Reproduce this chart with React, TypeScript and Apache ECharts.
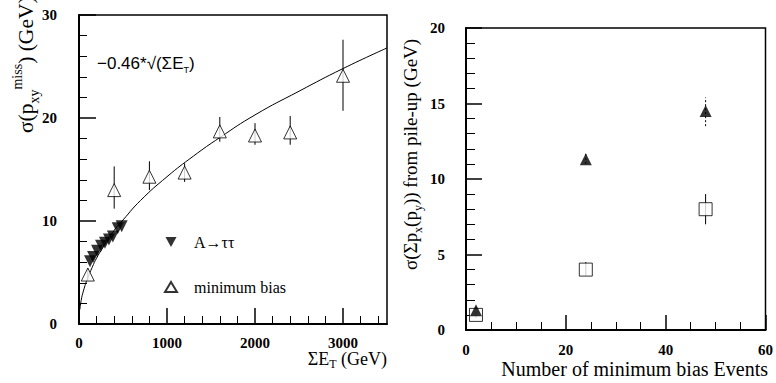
import React, { useEffect, useRef } from 'react';
import * as echarts from 'echarts';

// ---- Left panel: sigma(pxy miss) vs Sum ET ----
const sumEtMajorTicks = [0, 1000, 2000, 3000];
const sumEtMinorTicks = [200, 400, 600, 800, 1200, 1400, 1600, 1800, 2200, 2400, 2600, 2800, 3200, 3400];

const fitX = [10, 25, 50, 100, 150, 200, 300, 400, 500, 700, 1000, 1300, 1600, 2000, 2500, 3000, 3500];
const fitY = [1.4, 2.3, 3.2, 4.5, 5.5, 6.4, 7.8, 9.1, 10.1, 12.0, 14.3, 16.3, 18.1, 20.3, 22.6, 24.8, 26.8];

const tauX = [125, 160, 205, 250, 295, 340, 385, 440, 485];
const tauY = [6.1, 6.5, 7.1, 7.6, 7.9, 8.2, 8.5, 9.3, 9.5];

const mbX = [100, 400, 800, 1200, 1600, 2000, 2400, 3000];
const mbY = [4.8, 13.0, 14.3, 14.7, 18.7, 18.3, 18.6, 24.1];
const mbLo = [4.2, 11.2, 13.0, 13.8, 17.7, 17.4, 17.4, 20.7];
const mbHi = [5.4, 15.3, 15.8, 15.6, 20.1, 19.5, 20.2, 27.6];

// ---- Right panel: sigma from pile-up vs number of min bias events ----
const nEvents = [2, 24, 48];
const triY = [1.3, 11.3, 14.5];
const triLo = [1.1, 11.0, 13.5];
const triHi = [1.5, 11.7, 15.4];
const sqY = [1.0, 4.0, 8.0];
const sqLo = [0.8, 3.6, 7.0];
const sqHi = [1.2, 4.5, 9.0];

const SERIF = '"Liberation Serif", "DejaVu Serif", serif';
const SANS = '"Liberation Sans", Arial, sans-serif';

function errBarRender(dashed: boolean) {
  return (params: any, api: any) => {
    const p1 = api.coord([api.value(0), api.value(1)]);
    const p2 = api.coord([api.value(0), api.value(2)]);
    return {
      type: 'line',
      shape: { x1: p1[0], y1: p1[1], x2: p2[0], y2: p2[1] },
      style: { stroke: '#000', lineWidth: 1, lineDash: dashed ? [2, 2] : null },
    };
  };
}

export default function App() {
  const ref = useRef<HTMLDivElement>(null);
  useEffect(() => {
    document.body.style.margin = '0';
    const chart = echarts.init(ref.current!, null, { renderer: 'svg' });
    const axisLine = { show: true, onZero: false, lineStyle: { color: '#000', width: 2 } };
    const labelStyle = {
      color: '#000', fontFamily: SERIF, fontSize: 15, fontWeight: 'bold' as const,
      formatter: (v: number) => String(v),
    };
    const option: any = {
      animation: false,
      backgroundColor: '#fff',
      grid: [
        { left: 79, top: 15, width: 308, height: 309, show: true, borderColor: '#000', borderWidth: 1.5, backgroundColor: 'transparent' },
        { left: 466, top: 28, width: 303, height: 302, show: true, borderColor: '#000', borderWidth: 1.5, backgroundColor: 'transparent' },
      ],
      xAxis: [
        {
          type: 'value', gridIndex: 0, min: 0, max: 3500, position: 'bottom',
          axisLine,
          axisTick: { show: true, inside: true, length: 16, customValues: sumEtMajorTicks, lineStyle: { color: '#000', width: 1.5 } },
          axisLabel: { ...labelStyle, margin: 11, customValues: sumEtMajorTicks },
          splitLine: { show: false },
        },
        {
          type: 'value', gridIndex: 0, min: 0, max: 3500, position: 'bottom',
          axisLine: { show: false, onZero: false },
          axisTick: { show: true, inside: true, length: 8, customValues: sumEtMinorTicks, lineStyle: { color: '#000', width: 1 } },
          axisLabel: { show: false },
          splitLine: { show: false },
        },
        {
          type: 'value', gridIndex: 1, min: 0, max: 60, interval: 20, position: 'bottom',
          axisLine,
          axisTick: { show: true, inside: true, length: 15, lineStyle: { color: '#000', width: 1.5 } },
          minorTick: { show: true, splitNumber: 4, length: 8, lineStyle: { color: '#000', width: 1 } },
          axisLabel: { ...labelStyle, margin: 12 },
          splitLine: { show: false },
        },
      ],
      yAxis: [
        {
          type: 'value', gridIndex: 0, min: 0, max: 30, interval: 10,
          axisLine,
          axisTick: { show: true, inside: true, length: 17, lineStyle: { color: '#000', width: 1.5 } },
          minorTick: { show: true, splitNumber: 5, length: 8, lineStyle: { color: '#000', width: 1 } },
          axisLabel: { ...labelStyle, margin: 22 },
          splitLine: { show: false },
        },
        {
          type: 'value', gridIndex: 1, min: 0, max: 20, interval: 5,
          axisLine,
          axisTick: { show: true, inside: true, length: 16, lineStyle: { color: '#000', width: 1.5 } },
          minorTick: { show: true, splitNumber: 5, length: 9, lineStyle: { color: '#000', width: 1 } },
          axisLabel: { ...labelStyle, margin: 21 },
          splitLine: { show: false },
        },
      ],
      legend: {
        left: 164, top: 234, padding: 0, orient: 'vertical', itemGap: 29, itemWidth: 12, itemHeight: 10,
        selectedMode: false,
        textStyle: { color: '#000', fontFamily: SERIF, fontSize: 16, lineHeight: 16, padding: [0, 0, 0, 12] },
        data: [
          { name: 'A→ττ', icon: 'path://M0,0L10,0L5,9Z' },
          { name: 'minimum bias', icon: 'triangle' },
        ],
      },
      series: [
        {
          type: 'line', xAxisIndex: 0, yAxisIndex: 0, smooth: true, showSymbol: false, symbol: 'none',
          lineStyle: { color: '#000', width: 1 }, data: fitX.map((x, i) => [x, fitY[i]]), z: 2,
        },
        {
          type: 'custom', xAxisIndex: 0, yAxisIndex: 0, renderItem: errBarRender(false),
          data: mbX.map((x, i) => [x, mbLo[i], mbHi[i]]), z: 3,
        },
        {
          name: 'A→ττ', type: 'scatter', xAxisIndex: 0, yAxisIndex: 0, symbol: 'triangle', symbolRotate: 180, symbolSize: 12,
          itemStyle: { color: '#000' }, data: tauX.map((x, i) => [x, tauY[i]]), z: 4,
        },
        {
          name: 'minimum bias', type: 'scatter', xAxisIndex: 0, yAxisIndex: 0, symbol: 'triangle', symbolSize: 13,
          itemStyle: { color: '#fff', borderColor: '#000', borderWidth: 1 }, data: mbX.map((x, i) => [x, mbY[i]]), z: 5,
        },
        {
          type: 'custom', xAxisIndex: 2, yAxisIndex: 1, renderItem: errBarRender(true),
          data: nEvents.map((x, i) => [x, triLo[i], triHi[i]]), z: 3,
        },
        {
          type: 'custom', xAxisIndex: 2, yAxisIndex: 1, renderItem: errBarRender(false),
          data: nEvents.map((x, i) => [x, sqLo[i], sqHi[i]]), z: 3,
        },
        {
          type: 'scatter', xAxisIndex: 2, yAxisIndex: 1, symbol: 'rect', symbolSize: 13,
          itemStyle: { color: '#fff', borderColor: '#000', borderWidth: 1 }, data: nEvents.map((x, i) => [x, sqY[i]]), z: 4,
        },
        {
          type: 'scatter', xAxisIndex: 2, yAxisIndex: 1, symbol: 'triangle', symbolSize: 12,
          itemStyle: { color: '#000' }, data: nEvents.map((x, i) => [x, triY[i]]), z: 5,
        },
      ],
      graphic: [
        {
          type: 'text', x: 97, y: 63,
          style: {
            text: '{m|−0.46*√(ΣE}{s|T}{m|)}',
            verticalAlign: 'middle', align: 'left',
            rich: {
              m: { fontFamily: SANS, fontSize: 17, fill: '#000', lineHeight: 22, verticalAlign: 'middle' },
              s: { fontFamily: SANS, fontSize: 9, fill: '#000', lineHeight: 12, verticalAlign: 'bottom' },
            },
          },
        },
        {
          type: 'text', x: 387, y: 370,
          style: {
            text: '{m|ΣE}{s|T}{m| (GeV)}',
            align: 'right', verticalAlign: 'bottom',
            rich: {
              m: { fontFamily: SERIF, fontSize: 18, fill: '#000', lineHeight: 22, verticalAlign: 'middle' },
              s: { fontFamily: SERIF, fontSize: 12, fill: '#000', lineHeight: 12, verticalAlign: 'bottom' },
            },
          },
        },
        {
          type: 'text', x: 768, y: 369,
          style: { text: 'Number of minimum bias Events', align: 'right', verticalAlign: 'middle', fontFamily: SERIF, fontSize: 20, fill: '#000' },
        },
        {
          type: 'text', x: 26, y: 133, rotation: Math.PI / 2,
          style: {
            text: '{m|σ(p}{s|xy}{u|miss}{m|) (GeV)}',
            align: 'left', verticalAlign: 'middle',
            rich: {
              m: { fontFamily: SERIF, fontSize: 21.5, fill: '#000', lineHeight: 31, verticalAlign: 'middle' },
              s: { fontFamily: SERIF, fontSize: 14, fill: '#000', lineHeight: 14, verticalAlign: 'bottom' },
              u: { fontFamily: SERIF, fontSize: 14, fill: '#000', lineHeight: 14, verticalAlign: 'top' },
            },
          },
        },
        {
          type: 'text', x: 410, y: 270, rotation: Math.PI / 2,
          style: {
            text: '{m|σ(Σp}{s|x}{m|(p}{s|y}{m|)) from pile-up (GeV)}',
            align: 'left', verticalAlign: 'middle',
            rich: {
              m: { fontFamily: SERIF, fontSize: 19, fill: '#000', lineHeight: 28, verticalAlign: 'middle' },
              s: { fontFamily: SERIF, fontSize: 12, fill: '#000', lineHeight: 12, verticalAlign: 'bottom' },
            },
          },
        },
      ],
    };
    chart.setOption(option);
    return () => chart.dispose();
  }, []);
  return <div ref={ref} style={{ width: 776, height: 383 }} />;
}
